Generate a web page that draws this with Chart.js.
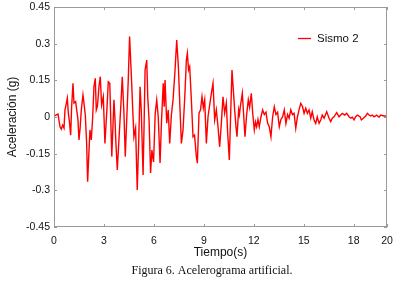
<!DOCTYPE html>
<html>
<head>
<meta charset="utf-8">
<script src="https://cdn.jsdelivr.net/npm/chart.js@4"></script>
<style>
  html, body { margin: 0; padding: 0; background: #fff; }
  #wrap { width: 410px; height: 282px; position: relative; }
</style>
</head>
<body>
<div id="wrap"><canvas id="grafico"></canvas></div>
<script>
// acelerograma: tiempo (s) y aceleración (g)
const tiempo = [
  0.00, 0.24, 0.36, 0.44, 0.52, 0.60, 0.66, 0.72, 0.80, 0.86, 0.93, 1.00, 1.06, 1.14, 1.20, 1.30,
  1.44, 1.50, 1.57, 1.64, 1.74, 1.80, 1.88, 1.96, 2.02, 2.09, 2.16, 2.24, 2.32, 2.40, 2.48, 2.54,
  2.61, 2.70, 2.78, 2.86, 2.96, 3.06, 3.17, 3.26, 3.35, 3.41, 3.47, 3.54, 3.60, 3.66, 3.71, 3.80,
  3.90, 4.01, 4.10, 4.20, 4.28, 4.36, 4.46, 4.54, 4.64, 4.73, 4.80, 4.90, 5.00, 5.09, 5.17, 5.24,
  5.35, 5.41, 5.47, 5.57, 5.63, 5.71, 5.80, 5.88, 5.98, 6.08, 6.17, 6.26, 6.37, 6.46, 6.56, 6.62,
  6.67, 6.77, 6.86, 6.95, 7.05, 7.15, 7.27, 7.37, 7.47, 7.57, 7.65, 7.75, 7.86, 7.95, 8.01, 8.08,
  8.15, 8.25, 8.35, 8.44, 8.55, 8.61, 8.71, 8.80, 8.89, 8.97, 9.05, 9.15, 9.25, 9.35, 9.45, 9.55,
  9.65, 9.75, 9.85, 9.95, 10.05, 10.15, 10.25, 10.35, 10.43, 10.53, 10.61, 10.69, 10.77, 10.86, 10.93, 10.99,
  11.09, 11.14, 11.19, 11.31, 11.38, 11.47, 11.57, 11.67, 11.75, 11.85, 11.94, 12.03, 12.10, 12.17, 12.25, 12.33,
  12.43, 12.53, 12.63, 12.73, 12.83, 12.93, 13.03, 13.13, 13.23, 13.33, 13.43, 13.53, 13.63, 13.73, 13.83, 13.93,
  14.03, 14.12, 14.22, 14.32, 14.42, 14.52, 14.62, 14.72, 14.82, 14.93, 15.02, 15.12, 15.22, 15.32, 15.42, 15.51,
  15.62, 15.72, 15.81, 15.92, 16.02, 16.11, 16.22, 16.38, 16.52, 16.62, 16.71, 16.82, 16.98, 17.12, 17.22, 17.32,
  17.46, 17.58, 17.72, 17.82, 17.92, 18.02, 18.12, 18.22, 18.38, 18.46, 18.58, 18.72, 18.82, 18.92, 19.02, 19.12,
  19.22, 19.38, 19.52, 19.62, 19.82, 20.00
];
const sismo2 = [
  0.004, 0.012, -0.040, -0.050, -0.033, -0.045, 0.029, 0.049, 0.077, 0.016, -0.020, -0.074, 0.042, 0.138, 0.057, 0.063,
  -0.012, -0.094, -0.045, 0.029, 0.090, 0.057, 0.008, -0.106, -0.265, -0.155, -0.053, -0.094, -0.004, 0.124, 0.158, 0.029,
  0.045, 0.124, 0.165, 0.049, 0.083, -0.108, 0.022, 0.144, 0.138, -0.012, -0.162, -0.040, 0.070, -0.004, -0.094, -0.217,
  -0.094, 0.042, 0.165, 0.016, -0.162, -0.025, 0.151, 0.329, 0.179, 0.029, -0.081, -0.045, -0.299, -0.094, 0.124, 0.029,
  -0.237, -0.033, 0.192, 0.233, 0.083, -0.012, -0.229, -0.135, -0.184, 0.016, 0.070, 0.001, -0.188, -0.012, 0.138, 0.042,
  0.151, -0.025, 0.029, -0.108, 0.008, 0.070, 0.192, 0.315, 0.206, 0.029, -0.108, -0.053, 0.090, 0.233, 0.261, 0.192,
  0.206, 0.070, -0.081, -0.074, -0.162, -0.189, 0.016, 0.029, 0.083, 0.037, 0.070, -0.108, 0.001, 0.049, 0.097, 0.138,
  -0.012, 0.029, -0.040, -0.122, -0.026, 0.083, 0.016, 0.057, -0.065, -0.176, 0.010, 0.192, 0.110, 0.020, -0.040, -0.081,
  0.029, 0.010, 0.042, 0.097, 0.020, -0.081, 0.010, 0.070, 0.040, 0.097, 0.010, -0.053, -0.020, -0.040, -0.010, -0.040,
  0.000, 0.029, 0.010, 0.020, -0.026, -0.040, -0.081, 0.000, 0.042, 0.010, 0.020, -0.040, -0.010, 0.000, 0.029, -0.026,
  0.010, -0.005, 0.029, 0.010, 0.015, -0.046, 0.000, 0.030, 0.056, 0.042, 0.015, 0.036, 0.015, 0.029, -0.005, 0.022,
  -0.012, -0.026, 0.001, -0.026, -0.012, 0.008, -0.005, 0.022, -0.005, -0.019, -0.005, 0.001, 0.018, 0.001, 0.008, 0.015,
  0.008, 0.015, 0.001, -0.005, -0.001, -0.012, 0.001, 0.008, 0.001, -0.012, -0.005, 0.004, 0.015, 0.008, 0.004, 0.008,
  0.001, 0.008, -0.001, 0.008, 0.004, 0.004
];
const ticksX = [0, 3, 6, 9, 12, 15, 18, 20];
const ticksY = [-0.45, -0.3, -0.15, 0, 0.15, 0.3, 0.45];
const leyenda = 'Sismo 2';
const pie = 'Figura 6. Acelerograma artificial.';

const sans = "'Liberation Sans', Arial, sans-serif";

// marco gris con marcas hacia dentro, leyenda y pie de figura
const marco = {
  id: 'marco',
  afterDatasetsDraw(chart) {
    const { ctx, chartArea: a, scales: { x, y } } = chart;
    ctx.save();
    ctx.strokeStyle = '#9a9a9a';
    ctx.lineWidth = 1;
    ctx.strokeRect(a.left + 0.5, a.top + 0.5, a.right - a.left - 1, a.bottom - a.top - 1);
    ctx.beginPath();
    ticksX.forEach(v => {
      const px = Math.round(x.getPixelForValue(v)) + 0.5;
      ctx.moveTo(px, a.bottom); ctx.lineTo(px, a.bottom - 3);
      ctx.moveTo(px, a.top); ctx.lineTo(px, a.top + 3);
    });
    ticksY.forEach(v => {
      const py = Math.round(y.getPixelForValue(v)) + 0.5;
      ctx.moveTo(a.left, py); ctx.lineTo(a.left + 3, py);
      ctx.moveTo(a.right, py); ctx.lineTo(a.right - 3, py);
    });
    ctx.stroke();

    // leyenda
    const ds = chart.data.datasets[0];
    ctx.strokeStyle = ds.borderColor;
    ctx.lineWidth = 1.3;
    ctx.beginPath();
    ctx.moveTo(298, 38.5); ctx.lineTo(311, 38.5);
    ctx.stroke();
    ctx.fillStyle = '#111';
    ctx.font = '11.5px ' + sans;
    ctx.textBaseline = 'middle';
    ctx.textAlign = 'left';
    ctx.fillText(ds.label, 317, 38.5);

    // pie
    ctx.font = "12px 'Liberation Serif', 'Times New Roman', serif";
    ctx.textAlign = 'center';
    ctx.fillText(pie, 212, 271);
    ctx.restore();
  }
};

new Chart(document.getElementById('grafico'), {
  type: 'line',
  data: {
    datasets: [{
      label: leyenda,
      data: tiempo.map((t, i) => ({ x: t, y: sismo2[i] })),
      borderColor: '#ff0000',
      borderWidth: 1.4,
      pointRadius: 0,
      tension: 0,
      fill: false
    }]
  },
  options: {
    responsive: true,
    maintainAspectRatio: false,
    animation: false,
    layout: { padding: { top: 7, right: 23, left: 0, bottom: 0 } },
    plugins: {
      legend: { display: false },
      tooltip: { enabled: false }
    },
    scales: {
      x: {
        type: 'linear',
        min: 0,
        max: 20,
        afterBuildTicks: s => { s.ticks = ticksX.map(v => ({ value: v })); },
        afterFit: s => { s.height = 55; s.paddingLeft = 0; s.paddingRight = 0; },
        grid: { display: false, drawTicks: false },
        border: { display: false },
        ticks: {
          color: '#111',
          font: { family: sans, size: 10.5 },
          padding: 8,
          maxRotation: 0,
          autoSkip: false
        },
        title: {
          display: true,
          text: 'Tiempo(s)',
          color: '#111',
          font: { family: sans, size: 12 },
          padding: { top: 0, bottom: 22 }
        }
      },
      y: {
        min: -0.45,
        max: 0.45,
        afterBuildTicks: s => { s.ticks = ticksY.map(v => ({ value: v })); },
        afterFit: s => { s.width = 54; s.paddingTop = 0; s.paddingBottom = 0; },
        grid: { display: false, drawTicks: false },
        border: { display: false },
        ticks: {
          color: '#111',
          font: { family: sans, size: 10.5 },
          padding: 4,
          callback: v => String(Math.round(v * 100) / 100)
        },
        title: {
          display: true,
          text: 'Aceleración (g)',
          color: '#111',
          font: { family: sans, size: 12 },
          padding: { top: 5, bottom: 0 }
        }
      }
    }
  },
  plugins: [marco]
});
</script>
</body>
</html>
